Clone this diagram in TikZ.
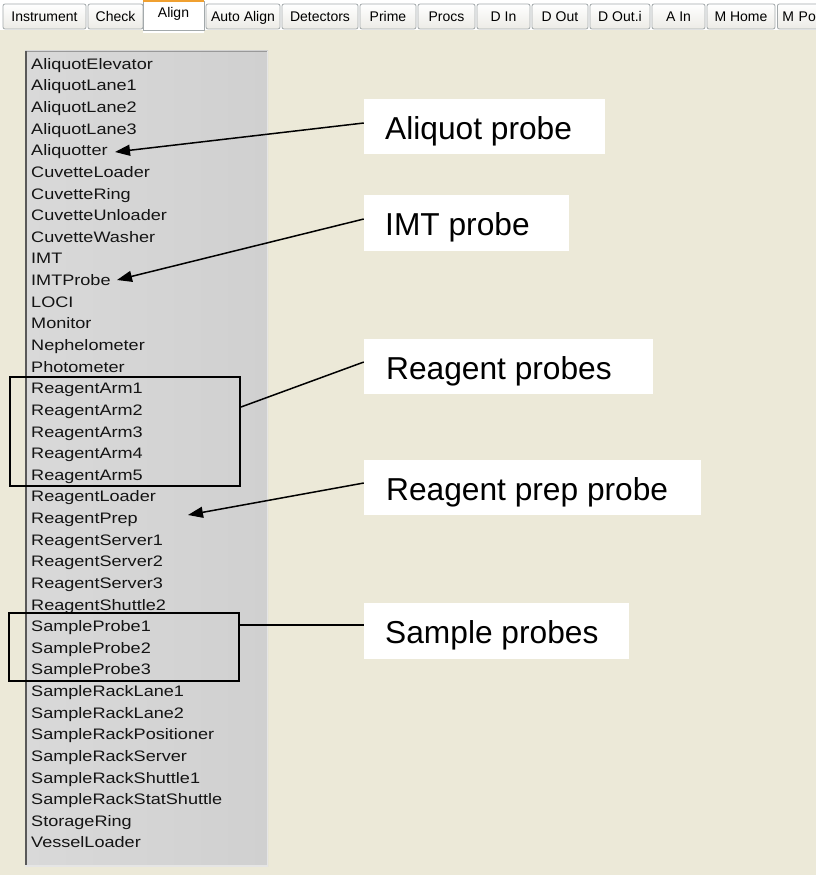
\documentclass[tikz,border=0pt]{standalone}
\usepackage{fontspec}
\setmainfont{Liberation Sans}
\newfontfamily\listfont[FakeStretch=1.19]{Liberation Sans}
\usetikzlibrary{arrows.meta}
\definecolor{xpbeige}{HTML}{ECE9D8}
\definecolor{panelL}{HTML}{D9D9D9}
\definecolor{panelR}{HTML}{D0D0D0}
\definecolor{tabborder}{HTML}{A3A9AB}
\definecolor{tabface}{HTML}{ECEBE6}
\definecolor{taborange}{HTML}{F0A030}
\definecolor{listtext}{HTML}{141414}
\begin{document}
\begin{tikzpicture}[x=1pt,y=-1pt,
  item/.style={anchor=base west, inner sep=0pt, text=listtext, font=\listfont\fontsize{15.2pt}{18pt}\selectfont},
  lbl/.style={anchor=base west, inner sep=0pt, font=\fontsize{31.7pt}{36pt}\selectfont},
  callbox/.style={rectangle, fill=white, draw=none, inner sep=0pt},
  grp/.style={rectangle, draw=black, line width=2pt, inner sep=0pt},
  ptr/.style={draw=black, line width=1.5pt, -{Triangle[length=15pt,width=11pt]}},
  lnk/.style={draw=black, line width=1.5pt},
  tabbox/.style={rectangle, draw=tabborder, line width=0.8pt, top color=white, bottom color=tabface,
     rounded corners=2pt, inner sep=0pt, minimum height=25pt,
     font=\fontsize{14pt}{16pt}\selectfont, text height=13pt, text depth=3pt},
  seltab/.style={rectangle, draw=tabborder, line width=0.8pt, fill=white,
     inner sep=0pt, minimum height=29pt,
     font=\fontsize{14pt}{16pt}\selectfont, text height=7pt, text depth=3pt}
]
\useasboundingbox (0,0) rectangle (816,875);
% background
\fill[xpbeige] (0,0) rectangle (816,875);
\fill[white] (0,0) rectangle (816,29);
\draw[white, line width=1pt] (0,29.5) -- (816,29.5);

% tabs
\node[tabbox, minimum width=83pt] (tInstrument) at (44.5,16.5) {Instrument};
\node[tabbox, minimum width=55pt] (tCheck) at (115.5,16.5) {Check};
\node[tabbox, minimum width=74pt] (tAutoAlign) at (243,16.5) {Auto Align};
\node[tabbox, minimum width=76pt] (tDetectors) at (320,16.5) {Detectors};
\node[tabbox, minimum width=56pt] (tPrime) at (388,16.5) {Prime};
\node[tabbox, minimum width=57pt] (tProcs) at (446.5,16.5) {Procs};
\node[tabbox, minimum width=53pt] (tDIn) at (503.5,16.5) {D In};
\node[tabbox, minimum width=56pt] (tDOut) at (560,16.5) {D Out};
\node[tabbox, minimum width=60pt] (tDOuti) at (620,16.5) {D Out.i};
\node[tabbox, minimum width=53pt] (tAIn) at (678.5,16.5) {A In};
\node[tabbox, minimum width=68pt] (tMHome) at (741,16.5) {M Home};
\node[tabbox, minimum width=70pt, anchor=west, text width=66pt, align=left] (tMPo) at (777,16.5) {\hspace*{3pt}M Po};
\node[seltab, minimum width=61pt] (tAlign) at (173.5,15.5) {Align};
\draw[taborange, line width=2.5pt] (tAlign.north west) -- (tAlign.north east);
\fill[white] ([xshift=0.6pt,yshift=-1pt]tAlign.south west) rectangle ([xshift=-0.6pt,yshift=-3pt]tAlign.south east);

% list panel
\shade[left color=panelL, right color=panelR] (25,51) rectangle (268,866);
\draw[gray!80, line width=1pt] (25,51.5) -- (268,51.5);
\draw[black!65, line width=2pt] (26,51) -- (26,866);
\draw[white!90!black, line width=1.5pt] (267.5,51) -- (267.5,866);
\draw[white!90!black, line width=1.5pt] (25,866) -- (268,866);

\foreach \t [count=\i from 0] in {AliquotElevator, AliquotLane1, AliquotLane2, AliquotLane3,
  Aliquotter, CuvetteLoader, CuvetteRing, CuvetteUnloader, CuvetteWasher, IMT, IMTProbe,
  LOCI, Monitor, Nephelometer, Photometer, ReagentArm1, ReagentArm2, ReagentArm3,
  ReagentArm4, ReagentArm5, ReagentLoader, ReagentPrep, ReagentServer1, ReagentServer2,
  ReagentServer3, ReagentShuttle2, SampleProbe1, SampleProbe2, SampleProbe3,
  SampleRackLane1, SampleRackLane2, SampleRackPositioner, SampleRackServer,
  SampleRackShuttle1, SampleRackStatShuttle, StorageRing, VesselLoader}
  \node[item] (l\i) at (31,{69.3+\i*21.63}) {\t};

% group rectangles
\node[grp, minimum width=230pt, minimum height=109pt] (gReagent) at (125,431.5) {};
\node[grp, minimum width=230pt, minimum height=68pt] (gSample) at (124,647) {};

% callout boxes
\node[callbox, minimum width=241pt, minimum height=55pt] (bAliq) at (484.5,126.5) {};
\node[lbl] (tAliq) at (385,139) {Aliquot probe};
\node[callbox, minimum width=205pt, minimum height=56pt] (bIMT) at (466.5,223) {};
\node[lbl] (tIMT) at (385,235) {IMT probe};
\node[callbox, minimum width=289pt, minimum height=55pt] (bRP) at (508.5,366.5) {};
\node[lbl] (tRP) at (386,379) {Reagent probes};
\node[callbox, minimum width=337pt, minimum height=55pt] (bPrep) at (532.5,487.5) {};
\node[lbl] (tPrep) at (386,500) {Reagent prep probe};
\node[callbox, minimum width=265pt, minimum height=56pt] (bSP) at (496.5,631) {};
\node[lbl] (tSP) at (385,643) {Sample probes};

% arrow targets
\coordinate (tipAliq) at (115,152);
\coordinate (tipIMT) at (117,280);
\coordinate (tipPrep) at (188,515);

% connectors
\draw[ptr] ([yshift=3.5pt]bAliq.west) -- (tipAliq);
\draw[ptr] ([yshift=4pt]bIMT.west) -- (tipIMT);
\draw[lnk] ([yshift=4.5pt]bRP.west) -- ([yshift=24.5pt]gReagent.east);
\draw[ptr] ([yshift=4.5pt]bPrep.west) -- (tipPrep);
\draw[lnk] ([yshift=6pt]bSP.west) -- ([yshift=22pt]gSample.east);
\end{tikzpicture}
\end{document}
